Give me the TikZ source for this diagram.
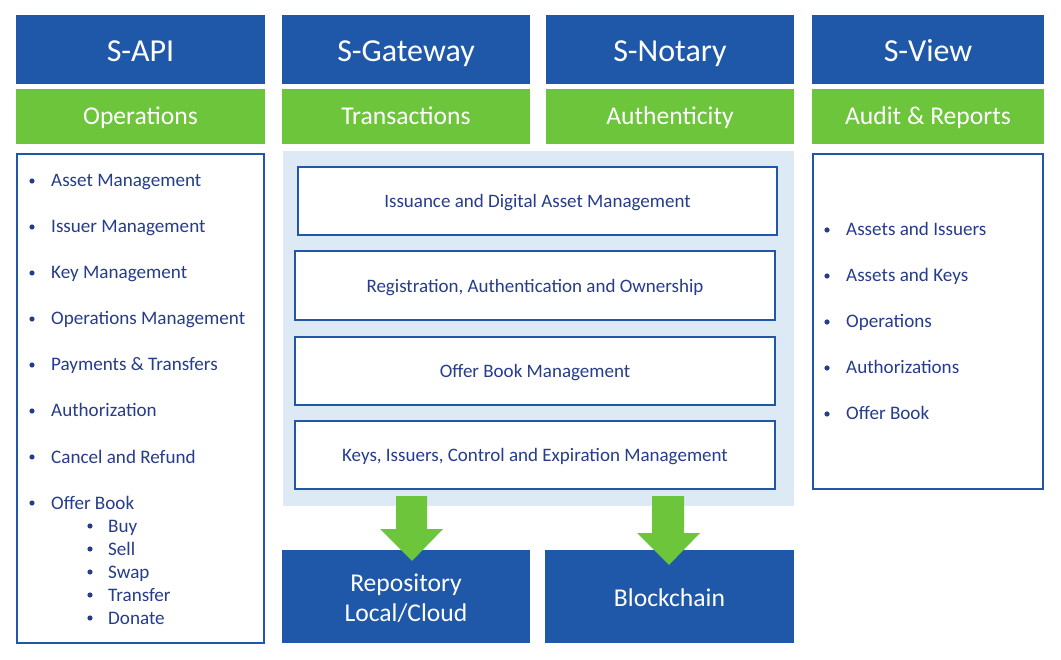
\documentclass[tikz,border=0pt]{standalone}
\usepackage{fontspec}
\setmainfont{Carlito}
\definecolor{hblue}{HTML}{1F58A8}
\definecolor{hgreen}{HTML}{6CC53B}
\definecolor{panel}{HTML}{DDEAF6}
\definecolor{tblue}{HTML}{263C8C}
\begin{document}
\begin{tikzpicture}[x=1pt,y=-1pt,
  base/.style={anchor=north west, inner sep=0pt, outer sep=0pt},
  hdr/.style={base, fill=hblue, text=white, font=\fontsize{32}{34}\selectfont, text height=24pt, text depth=0pt},
  sub/.style={base, fill=hgreen, text=white, font=\fontsize{25.6}{28}\selectfont, text height=17pt, text depth=0pt},
  listbox/.style={base, draw=hblue, line width=2pt, fill=white},
  panelbox/.style={base, fill=panel},
  inbox/.style={base, draw=hblue, line width=2.2pt, fill=white, text=tblue, font=\fontsize{19}{21}\selectfont, text height=13.4pt, text depth=0pt},
  store/.style={base, fill=hblue, text=white, font=\fontsize{25.6}{30}\selectfont},
  item/.style={anchor=base west, inner sep=0pt, text=tblue, font=\fontsize{19.1}{21}\selectfont},
  bul/.style={fill=tblue},
  bigarrow/.style={fill=hgreen, draw=none}
]
\useasboundingbox[fill=white] (0,0) rectangle (1061,660);

% headers
\node[hdr, minimum width=249pt, minimum height=69pt] (api) at (16,15) {S-API};
\node[hdr, minimum width=248pt, minimum height=69pt] (gw) at (282,15) {S-Gateway};
\node[hdr, minimum width=248pt, minimum height=69pt] (not) at (546,15) {S-Notary};
\node[hdr, minimum width=232pt, minimum height=69pt] (view) at (812,15) {S-View};

% green sub headers
\node[sub, minimum width=249pt, minimum height=55pt] (ops) at (16,89) {Operations};
\node[sub, minimum width=248pt, minimum height=55pt] (tra) at (282,89) {Transactions};
\node[sub, minimum width=248pt, minimum height=55pt] (aut) at (546,89) {Authenticity};
\node[sub, minimum width=232pt, minimum height=55pt] (aud) at (812,89) {Audit \& Reports};

% list boxes
\node[listbox, minimum width=247pt, minimum height=489pt] (apilist) at (17,154) {};
\node[listbox, minimum width=230pt, minimum height=335pt] (viewlist) at (813,154) {};

% central panel
\node[panelbox, minimum width=511pt, minimum height=355pt] (pan) at (283,151) {};
\node[inbox, minimum width=479pt, minimum height=68pt] (b1) at (298,167) {Issuance and Digital Asset Management};
\node[inbox, minimum width=480pt, minimum height=69pt] (b2) at (295,251) {Registration, Authentication and Ownership};
\node[inbox, minimum width=480pt, minimum height=68pt] (b3) at (295,337) {Offer Book Management};
\node[inbox, minimum width=480pt, minimum height=68pt] (b4) at (295,421) {Keys, Issuers, Control and Expiration Management};

% storage boxes
\node[store, align=center, minimum width=248pt, minimum height=93pt, text height=49pt, text depth=0pt] (repo) at (282,550) {Repository\\Local/Cloud};
\node[store, minimum width=249pt, minimum height=93pt, text height=19pt, text depth=0pt] (chain) at (545,550) {Blockchain};

% S-API list
\foreach \t [count=\i from 0] in {Asset Management,Issuer Management,Key Management,Operations Management,Payments \& Transfers,Authorization,Cancel and Refund,Offer Book}{
  \fill[bul] (32,181+46*\i) circle (2.6);
  \node[item] (a\i) at (51,187+46*\i) {\t};
}
\foreach \t [count=\i from 0] in {Buy,Sell,Swap,Transfer,Donate}{
  \fill[bul] (90,526+23*\i) circle (2.6);
  \node[item] (s\i) at (108,532+23*\i) {\t};
}
% S-View list
\foreach \t [count=\i from 0] in {Assets and Issuers,Assets and Keys,Operations,Authorizations,Offer Book}{
  \fill[bul] (827,230+46*\i) circle (2.6);
  \node[item] (v\i) at (846,236+46*\i) {\t};
}

% big arrows
\fill[bigarrow] (396,496) -- (427,496) -- (427,529) -- (443,529) -- (412,561) -- (380,529) -- (396,529) -- cycle;
\fill[bigarrow] (652,496) -- (684,496) -- (684,533) -- (700,533) -- (669,565) -- (637,533) -- (652,533) -- cycle;
\end{tikzpicture}
\end{document}
